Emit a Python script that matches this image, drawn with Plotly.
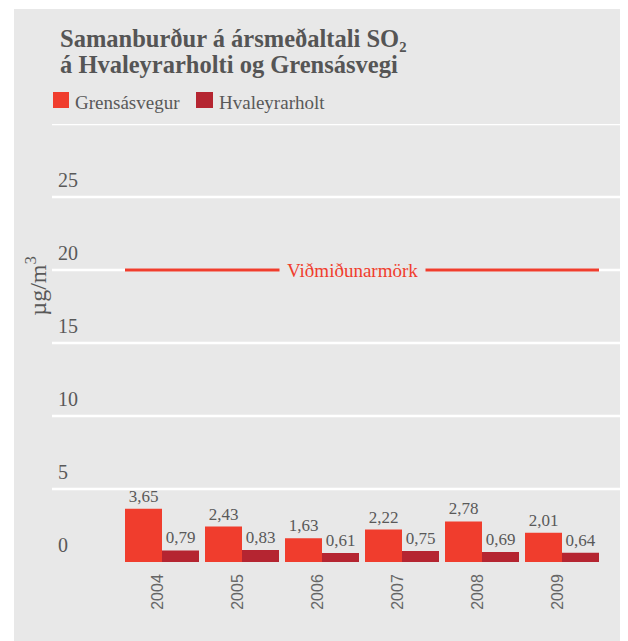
import plotly.graph_objects as go

years = ["2004", "2005", "2006", "2007", "2008", "2009"]
grensas = [3.65, 2.43, 1.63, 2.22, 2.78, 2.01]
hvaleyr = [0.79, 0.83, 0.61, 0.75, 0.69, 0.64]
series_names = ["Grensásvegur", "Hvaleyrarholt"]
ytick_vals = [0, 5, 10, 15, 20, 25]
ytick_text = ["0", "5", "10", "15", "20", "25"]
grid_vals = [5, 10, 15, 20, 25, 30]
limit_value = 20
limit_label = "Viðmiðunarmörk"
title_lines = ["Samanburður á ársmeðaltali SO₂", "á Hvaleyrarholti og Grensásvegi"]
y_title = "µg/m<sup>3</sup>"

RED = "#f03d2d"
DARK = "#b52531"
BG = "#e8e8e8"
TXT = "#595959"
SERIF = "Liberation Serif"

def fmt(v):
    return f"{v:.2f}".replace(".", ",")

fig = go.Figure()
for name, vals, col in [(series_names[0], grensas, RED), (series_names[1], hvaleyr, DARK)]:
    fig.add_trace(go.Bar(x=years, y=vals, name=name, marker_color=col, marker_line_width=0,
                         text=[fmt(v) for v in vals], textposition="outside",
                         textfont=dict(family=SERIF, size=17, color=TXT), cliponaxis=False,
                         showlegend=False))

shapes = [dict(type="rect", xref="paper", yref="paper", x0=-0.0667, x1=1.0012,
               y0=-0.2, y1=1.2626, fillcolor=BG, line_width=0, layer="below")]
for g in grid_vals:
    shapes.append(dict(type="line", xref="paper", yref="y", x0=0, x1=1, y0=g, y1=g,
                       line=dict(color="white", width=2.5), layer="below"))
shapes.append(dict(type="line", xref="x", yref="y", x0=-0.4625, x1=5.4625,
                   y0=limit_value, y1=limit_value, line=dict(color=RED, width=3), layer="above"))

# custom legend swatches
sw = [(0.00175, 0.0298, RED), (0.2526, 0.2825, DARK)]
for x0, x1, col in sw:
    shapes.append(dict(type="rect", xref="paper", yref="paper", x0=x0, x1=x1,
                       y0=1.0365, y1=1.0731, fillcolor=col, line_width=0))

annotations = [
    dict(x=2.375, y=limit_value, xref="x", yref="y", text=limit_label, showarrow=False,
         font=dict(family=SERIF, size=19, color=RED), bgcolor=BG, borderpad=7),
    dict(x=-0.028, y=0.631, xref="paper", yref="paper", text=y_title, textangle=-90,
         xanchor="center", yanchor="middle",
         showarrow=False, font=dict(family=SERIF, size=24, color=TXT)),
    dict(x=0.0105, y=1.1954, xref="paper", yref="paper", text=title_lines[0], showarrow=False,
         xanchor="left", yanchor="middle",
         font=dict(family=SERIF, size=24.5, color="#555555", weight="bold")),
    dict(x=0.0105, y=1.136, xref="paper", yref="paper", text=title_lines[1], showarrow=False,
         xanchor="left", yanchor="middle",
         font=dict(family=SERIF, size=24.5, color="#555555", weight="bold")),
    dict(x=0.0368, y=1.048, xref="paper", yref="paper", text=series_names[0], showarrow=False,
         xanchor="left", yanchor="middle", font=dict(family=SERIF, size=19, color=TXT)),
    dict(x=0.2895, y=1.048, xref="paper", yref="paper", text=series_names[1], showarrow=False,
         xanchor="left", yanchor="middle", font=dict(family=SERIF, size=19, color=TXT)),
]
for v, t in zip(ytick_vals, ytick_text):
    annotations.append(dict(x=0.007, y=v, xref="paper", yref="y", text=t, showarrow=False,
                            xanchor="left", yanchor="middle", yshift=17.5,
                            font=dict(family=SERIF, size=20, color=TXT)))

fig.update_layout(
    width=620, height=633,
    margin=dict(l=44, r=6, t=116, b=79),
    paper_bgcolor="white", plot_bgcolor="rgba(0,0,0,0)",
    barmode="group", bargap=0.075, bargroupgap=0,
    shapes=shapes, annotations=annotations, showlegend=False,
    xaxis=dict(range=[-1.375, 5.75], tickangle=-90, showgrid=False, zeroline=False,
               showline=False, ticks="", ticklabelstandoff=8, ticklabelshift=-4,
               tickfont=dict(family="Liberation Sans", size=16, color="#666666")),
    yaxis=dict(range=[0, 30], showticklabels=False, showgrid=False,
               zeroline=False, showline=False, ticks=""),
)

fig.write_html("out.html")
